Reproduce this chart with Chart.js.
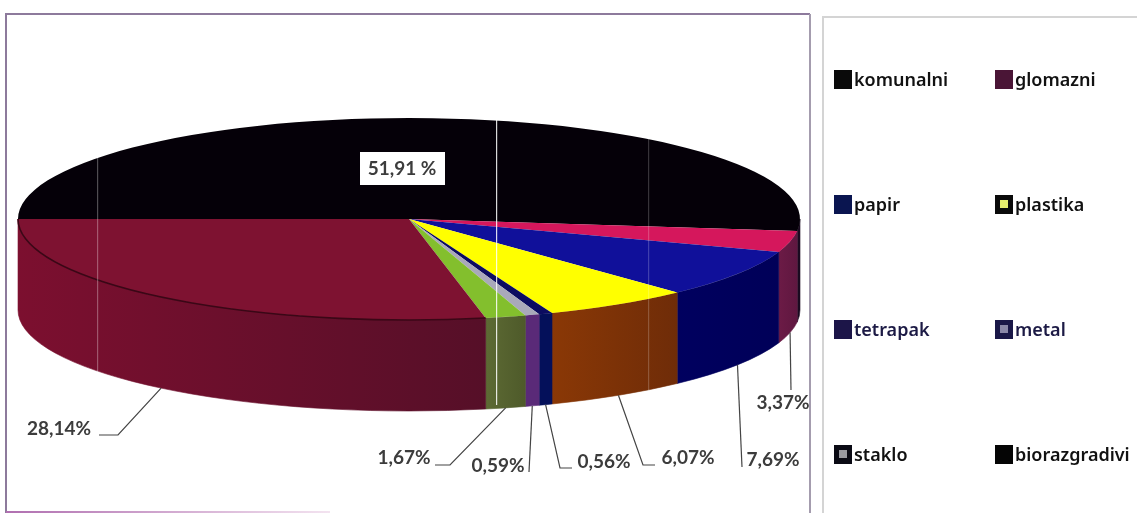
<!DOCTYPE html>
<html>
<head>
<meta charset="utf-8">
<title>Otpad</title>
<script src="https://cdn.jsdelivr.net/npm/chart.js@4"></script>
<style>
    html, body { margin: 0; padding: 0; background: #fff; overflow: hidden; }
    canvas { display: block; filter: blur(0.4px); }
</style>
</head>
<body>
<canvas id="pie-chart" width="1137" height="513"></canvas>
<script>
// slices in clockwise order, starting from the left edge of the pie
const categories = ['komunalni', 'biorazgradivi', 'papir', 'plastika', 'tetrapak', 'metal', 'staklo', 'glomazni'];
const values = [51.91, 3.37, 7.69, 6.07, 0.56, 0.59, 1.67, 28.14];
const top_colors = ['#050008', '#d5175c', '#10109a', '#ffff00', '#0c0c60', '#a9a9ba', '#83bf2d', '#7e1231'];
const side_colors = [['#1a0a20', '#1a0a20'], ['#6c1b46', '#5f1740'], ['#00005f', '#000058'], ['#8a3806', '#6f2c08'],
    ['#04105a', '#04105a'], ['#5a2a78', '#5a2a78'], ['#5d6a34', '#4e5a2a'], ['#7c0f2f', '#560f28']];

// legend, in the order of the reference
const legend_labels = ['komunalni', 'glomazni', 'papir', 'plastika', 'tetrapak', 'metal', 'staklo', 'biorazgradivi'];
const legend_colors = ['#0a0a0a', '#4a1536', '#0a1550', '#0a0a0a', '#1c1548', '#1a1848', '#0a0a14', '#050505'];
const legend_inner = [null, null, null, '#e6ee6e', null, '#8a88a8', '#9a9aa0', null];
const legend_text = ['#111', '#111', '#111', '#111', '#1c1a45', '#1c1a45', '#111', '#111'];

// where the label of each slice sits: text anchor, then the elbow of its leader line
const label_spots = [
    null,
    { x: 783, y: 403, points: [[791, 390]] },
    { x: 773, y: 460, points: [[742, 467]] },
    { x: 688, y: 458, points: [[643, 465], [655, 465]] },
    { x: 604, y: 462, points: [[560, 468], [572, 468]] },
    { x: 498, y: 466, points: [[529, 472]] },
    { x: 404, y: 458, points: [[450, 465], [435, 465]] },
    { x: 59, y: 429, points: [[118, 435], [99, 435]] }
];

const center_x = 409;
const center_y = 219;
const radius = 391;
const squash = 101 / 391;
const depth = 91;
const streaks = [[97, 0.3], [496, 0.85], [648, 0.2]];

const pie_3d = {
    id: 'pie_3d',
    beforeDatasetsDraw(chart) {
        const ctx = chart.ctx;
        draw_sides(chart, ctx);
        ctx.save();
        ctx.translate(center_x, center_y);
        ctx.scale(1, squash);
        ctx.translate(-center_x, -center_y);
    },
    afterDatasetsDraw(chart) {
        const ctx = chart.ctx;
        ctx.restore();
        draw_rim(chart, ctx);
        draw_streaks(ctx);
        draw_labels(chart, ctx);
        draw_frames(ctx);
        draw_legend(ctx);
    }
};

function draw_sides(chart, ctx) {
    chart.getDatasetMeta(0).data.forEach((arc, i) => {
        const from = Math.max(arc.startAngle, 0);
        const to = Math.min(arc.endAngle, Math.PI);
        if (to <= from) return;
        const ry = arc.outerRadius * squash;
        const gradient = ctx.createLinearGradient(arc.x + arc.outerRadius * Math.cos(to), 0, arc.x + arc.outerRadius * Math.cos(from), 0);
        gradient.addColorStop(0, side_colors[i][0]);
        gradient.addColorStop(1, side_colors[i][1]);
        ctx.beginPath();
        ctx.ellipse(arc.x, center_y, arc.outerRadius, ry, 0, from, to);
        ctx.ellipse(arc.x, center_y + depth, arc.outerRadius, ry, 0, to, from, true);
        ctx.closePath();
        ctx.fillStyle = gradient;
        ctx.strokeStyle = gradient;
        ctx.lineWidth = 0.6;
        ctx.fill();
        ctx.stroke();
    });
}

// the dark edge between top and side of the largest front slice
function draw_rim(chart, ctx) {
    const arc = chart.getDatasetMeta(0).data[7];
    ctx.beginPath();
    ctx.ellipse(arc.x, center_y, arc.outerRadius, arc.outerRadius * squash, 0, arc.startAngle, arc.endAngle);
    ctx.strokeStyle = '#3a0716';
    ctx.lineWidth = 1.6;
    ctx.stroke();
}

function draw_streaks(ctx) {
    streaks.forEach(([x, alpha]) => {
        ctx.fillStyle = `rgba(255,255,255,${alpha})`;
        ctx.fillRect(x, 120, 1.2, 285);
    });
}

function draw_labels(chart, ctx) {
    // box on the big slice
    ctx.fillStyle = '#fff';
    ctx.fillRect(360, 152, 85, 33);
    ctx.font = 'bold 19px Lato';
    ctx.textAlign = 'center';
    ctx.textBaseline = 'middle';
    ctx.fillStyle = '#3c3c3c';
    ctx.fillText(values[0].toFixed(2).replace('.', ',') + ' %', 402, 169);

    chart.getDatasetMeta(0).data.forEach((arc, i) => {
        const spot = label_spots[i];
        if (!spot) return;
        const mid = (arc.startAngle + arc.endAngle) / 2;
        ctx.beginPath();
        ctx.moveTo(arc.x + arc.outerRadius * Math.cos(mid), center_y + depth + arc.outerRadius * squash * Math.sin(mid));
        spot.points.forEach(p => ctx.lineTo(p[0], p[1]));
        ctx.strokeStyle = '#444';
        ctx.lineWidth = 1.2;
        ctx.stroke();
        ctx.fillStyle = '#3c3c3c';
        ctx.fillText(values[i].toFixed(2).replace('.', ',') + '%', spot.x, spot.y);
    });
}

function draw_frames(ctx) {
    ctx.lineWidth = 2;
    ctx.strokeStyle = '#8d7a9c';
    ctx.beginPath();
    ctx.moveTo(6, 513);
    ctx.lineTo(6, 14);
    ctx.lineTo(810, 14);
    ctx.stroke();
    ctx.strokeStyle = '#a49cae';
    ctx.beginPath();
    ctx.moveTo(810, 14);
    ctx.lineTo(810, 513);
    ctx.stroke();
    const fade = ctx.createLinearGradient(6, 0, 330, 0);
    fade.addColorStop(0, '#b06fb0');
    fade.addColorStop(1, '#f3e3f0');
    ctx.strokeStyle = fade;
    ctx.beginPath();
    ctx.moveTo(6, 512);
    ctx.lineTo(330, 512);
    ctx.stroke();
    ctx.strokeStyle = '#d4d4d4';
    ctx.beginPath();
    ctx.moveTo(823, 513);
    ctx.lineTo(823, 17);
    ctx.lineTo(1137, 17);
    ctx.stroke();
}

function draw_legend(ctx) {
    ctx.textAlign = 'left';
    ctx.textBaseline = 'middle';
    ctx.font = '600 18px "Noto Sans"';
    legend_labels.forEach((label, i) => {
        const x = i % 2 ? 995 : 834;
        const y = 79 + Math.floor(i / 2) * 125;
        ctx.fillStyle = legend_colors[i];
        ctx.fillRect(x, y - 9, 18, 19);
        if (legend_inner[i]) {
            ctx.fillStyle = legend_inner[i];
            ctx.fillRect(x + 5, y - 4, 8, 8);
        }
        ctx.fillStyle = legend_text[i];
        ctx.fillText(label, x + 20, y + 2);
    });
}

new Chart(document.getElementById('pie-chart'), {
    type: 'pie',
    data: {
        labels: categories,
        datasets: [{
            data: values,
            backgroundColor: top_colors,
            borderWidth: 0,
            clip: false
        }]
    },
    options: {
        responsive: false,
        animation: false,
        rotation: -90,
        radius: radius,
        layout: { padding: { left: 0, top: 0, right: 1137 - 2 * center_x, bottom: 513 - 2 * center_y } },
        plugins: {
            legend: { display: false },
            tooltip: { enabled: false }
        }
    },
    plugins: [pie_3d]
});
</script>
</body>
</html>
